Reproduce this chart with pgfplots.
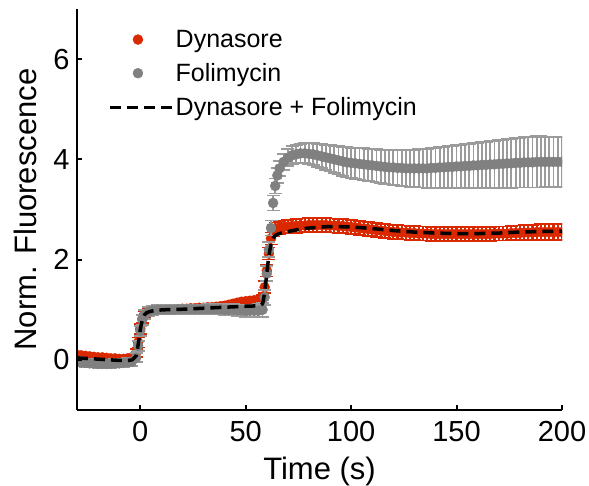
\documentclass[border=0pt]{standalone}
\usepackage{fontspec}
\setmainfont{Liberation Sans}
\usepackage{pgfplots}
\usepackage{pgfplotstable}
\pgfplotsset{compat=1.18}
\definecolor{redc}{RGB}{218,41,0}
\definecolor{grayc}{RGB}{128,128,128}
\definecolor{grayerr}{RGB}{155,155,155}

\pgfplotstableread{
t y e
-30 0.10 0.06
-28 0.09 0.06
-26 0.08 0.05
-24 0.07 0.05
-22 0.06 0.05
-20 0.05 0.05
-18 0.05 0.05
-16 0.04 0.05
-14 0.03 0.05
-12 0.03 0.05
-10 0.02 0.05
-8 0.02 0.05
-6 0.03 0.05
-4 0.05 0.06
-2 0.14 0.08
-1 0.35 0.10
0 0.62 0.10
1 0.82 0.08
2 0.92 0.06
4 0.97 0.06
6 0.99 0.06
8 1.00 0.06
10 1.00 0.05
12 1.00 0.05
14 1.01 0.05
16 1.01 0.05
18 1.01 0.05
20 1.02 0.05
22 1.02 0.05
24 1.03 0.05
26 1.03 0.05
28 1.04 0.05
30 1.04 0.05
32 1.05 0.05
34 1.05 0.05
36 1.06 0.05
38 1.07 0.05
40 1.08 0.06
42 1.10 0.06
44 1.12 0.06
46 1.14 0.06
48 1.16 0.06
50 1.17 0.06
52 1.18 0.06
54 1.19 0.06
56 1.20 0.06
58 1.22 0.08
59 1.45 0.12
60 1.78 0.12
61 2.12 0.12
62 2.42 0.12
63 2.58 0.12
64 2.62 0.12
66 2.64 0.13
68 2.65 0.13
70 2.66 0.13
72 2.67 0.13
74 2.67 0.14
76 2.68 0.14
78 2.68 0.14
80 2.69 0.14
82 2.69 0.14
84 2.69 0.14
86 2.69 0.14
88 2.69 0.14
90 2.68 0.14
92 2.68 0.14
94 2.67 0.14
96 2.67 0.14
98 2.66 0.14
100 2.65 0.14
102 2.64 0.14
104 2.63 0.14
106 2.62 0.14
108 2.61 0.14
110 2.60 0.14
112 2.59 0.14
114 2.58 0.14
116 2.57 0.14
118 2.56 0.14
120 2.55 0.14
122 2.55 0.14
124 2.54 0.14
126 2.54 0.14
128 2.53 0.14
130 2.53 0.14
132 2.52 0.14
134 2.52 0.14
136 2.52 0.14
138 2.51 0.14
140 2.51 0.14
142 2.51 0.14
144 2.51 0.14
146 2.51 0.14
148 2.51 0.14
150 2.51 0.14
152 2.51 0.14
154 2.51 0.14
156 2.51 0.14
158 2.51 0.14
160 2.51 0.14
162 2.51 0.14
164 2.51 0.14
166 2.51 0.14
168 2.52 0.14
170 2.52 0.14
172 2.52 0.14
174 2.52 0.14
176 2.53 0.14
178 2.53 0.15
180 2.53 0.15
182 2.54 0.15
184 2.54 0.15
186 2.54 0.15
188 2.55 0.15
190 2.55 0.16
192 2.55 0.16
194 2.55 0.16
196 2.55 0.16
198 2.55 0.16
200 2.55 0.16
}\dynasore

\pgfplotstableread{
t y e
-30 -0.03 0.08
-28 -0.05 0.08
-26 -0.06 0.08
-24 -0.07 0.08
-22 -0.07 0.08
-20 -0.08 0.08
-18 -0.08 0.08
-16 -0.08 0.08
-14 -0.08 0.08
-12 -0.07 0.08
-10 -0.07 0.08
-8 -0.06 0.08
-6 -0.05 0.08
-4 -0.04 0.08
-2 0.04 0.09
-1 0.28 0.10
0 0.58 0.10
1 0.80 0.10
2 0.90 0.09
4 0.96 0.09
6 0.99 0.09
8 1.00 0.09
10 1.00 0.09
12 1.00 0.09
14 1.00 0.09
16 1.00 0.09
18 1.01 0.09
20 1.01 0.09
22 1.01 0.09
24 1.01 0.09
26 1.01 0.09
28 1.01 0.09
30 1.01 0.09
32 1.01 0.10
34 1.01 0.10
36 1.01 0.10
38 1.01 0.10
40 1.00 0.10
42 1.00 0.10
44 1.00 0.11
46 0.99 0.11
48 0.99 0.11
50 0.98 0.12
52 0.98 0.12
54 0.98 0.12
56 0.98 0.13
58 1.00 0.14
59 1.25 0.15
60 1.72 0.15
61 2.20 0.15
62 2.63 0.15
63 3.13 0.15
64 3.47 0.15
65 3.68 0.15
66 3.82 0.15
68 3.95 0.16
70 4.03 0.17
72 4.08 0.18
74 4.10 0.18
76 4.12 0.19
78 4.12 0.20
80 4.11 0.21
82 4.10 0.22
84 4.08 0.23
86 4.06 0.24
88 4.04 0.25
90 4.02 0.26
92 4.00 0.27
94 3.98 0.28
96 3.96 0.29
98 3.94 0.30
100 3.93 0.30
102 3.92 0.31
104 3.91 0.31
106 3.90 0.32
108 3.89 0.32
110 3.88 0.32
112 3.87 0.33
114 3.86 0.33
116 3.85 0.34
118 3.84 0.34
120 3.84 0.35
122 3.83 0.35
124 3.83 0.36
126 3.82 0.36
128 3.82 0.37
130 3.82 0.37
132 3.82 0.38
134 3.82 0.38
136 3.82 0.39
138 3.83 0.39
140 3.83 0.40
142 3.84 0.40
144 3.84 0.41
146 3.85 0.41
148 3.85 0.42
150 3.86 0.42
152 3.86 0.43
154 3.87 0.43
156 3.87 0.44
158 3.88 0.44
160 3.88 0.45
162 3.89 0.45
164 3.89 0.46
166 3.90 0.46
168 3.90 0.47
170 3.91 0.47
172 3.91 0.48
174 3.92 0.48
176 3.92 0.49
178 3.93 0.49
180 3.93 0.49
182 3.94 0.50
184 3.94 0.50
186 3.94 0.50
188 3.95 0.51
190 3.95 0.51
192 3.95 0.50
194 3.95 0.50
196 3.95 0.50
198 3.95 0.50
200 3.95 0.50
}\folimycin

\pgfplotstableread{
t y
-30 0.04
-26 0.03
-22 0.02
-18 0.01
-14 0.00
-10 -0.01
-6 -0.01
-4 0.00
-2 0.08
-1 0.30
0 0.60
1 0.80
2 0.90
3 0.94
5 0.97
8 0.99
12 1.00
20 1.01
30 1.03
40 1.05
50 1.07
56 1.08
58 1.12
59 1.35
60 1.72
61 2.08
62 2.30
63 2.42
64 2.48
66 2.52
70 2.56
75 2.60
80 2.63
90 2.66
100 2.65
110 2.62
120 2.58
130 2.55
140 2.53
150 2.52
160 2.52
170 2.53
180 2.55
190 2.56
200 2.57
}\both

\begin{document}
\begin{tikzpicture}
\begin{axis}[
  scale only axis,
  width=485pt, height=401pt,
  xmin=-30, xmax=200, ymin=-1, ymax=7,
  axis lines=left,
  axis line style={-, line width=2.8pt},
  axis on top,
  clip marker paths=true,
  xtick={0,50,100,150,200},
  ytick={0,2,4,6},
  tick align=inside,
  major tick length=5pt,
  tick style={line width=2pt, black},
  /pgf/number format/assume math mode=true,
  ticklabel style={font=\fontsize{29}{34}\selectfont},
  xticklabel style={yshift=-8pt},
  yticklabel style={xshift=-4pt},
  xlabel={Time (s)},
  ylabel={Norm. Fluorescence},
  label style={font=\fontsize{31}{36}\selectfont},
  xlabel style={at={(axis description cs:0.5,0)}, anchor=north, yshift=-44pt},
  ylabel style={at={(axis description cs:0,0.5)}, anchor=south, yshift=37pt},
  legend style={at={(rel axis cs:0,1)}, anchor=north west, xshift=31pt, yshift=-19pt,
    draw=none, fill=none, inner sep=0pt,
    font=\fontsize{25}{29}\selectfont, row sep=10.5pt,
    nodes={inner sep=2pt}},
  legend cell align=left,
]
\addplot[only marks, mark=*, mark size=5pt, redc, mark options={draw=redc, fill=redc},
  legend image code/.code={\path[draw=none, fill=none] (0pt,0pt) -- (62pt,0pt); \fill[redc] (28pt,0pt) circle (5pt);},
  error bars/.cd, y dir=both, y explicit,
  error bar style={redc, line width=2.2pt},
  error mark options={rotate=90, mark size=6.5pt, redc, line width=1.6pt}]
  table[x=t, y=y, y error=e] {\dynasore};
\addlegendentry{Dynasore}
\addplot[only marks, mark=*, mark size=5pt, grayc, mark options={draw=grayc, fill=grayc},
  legend image code/.code={\path[draw=none, fill=none] (0pt,0pt) -- (62pt,0pt); \fill[grayc] (28pt,0pt) circle (5pt);},
  error bars/.cd, y dir=both, y explicit,
  error bar style={grayerr, line width=1.8pt},
  error mark options={rotate=90, mark size=6.5pt, grayerr, line width=1.8pt}]
  table[x=t, y=y, y error=e] {\folimycin};
\addlegendentry{Folimycin}
\addplot[black, line width=3.5pt, dash pattern=on 11pt off 6pt, smooth, tension=0.3,
  legend image code/.code={\draw[black, line width=3.5pt, dash pattern=on 11pt off 6pt] (0pt,0pt) -- (62pt,0pt);}]
  table[x=t, y=y] {\both};
\addlegendentry{Dynasore + Folimycin}
\end{axis}
\pgfresetboundingbox
\path (current axis.south west) ++(-77pt,-76pt) rectangle ++(589pt,486pt);
\end{tikzpicture}
\end{document}
